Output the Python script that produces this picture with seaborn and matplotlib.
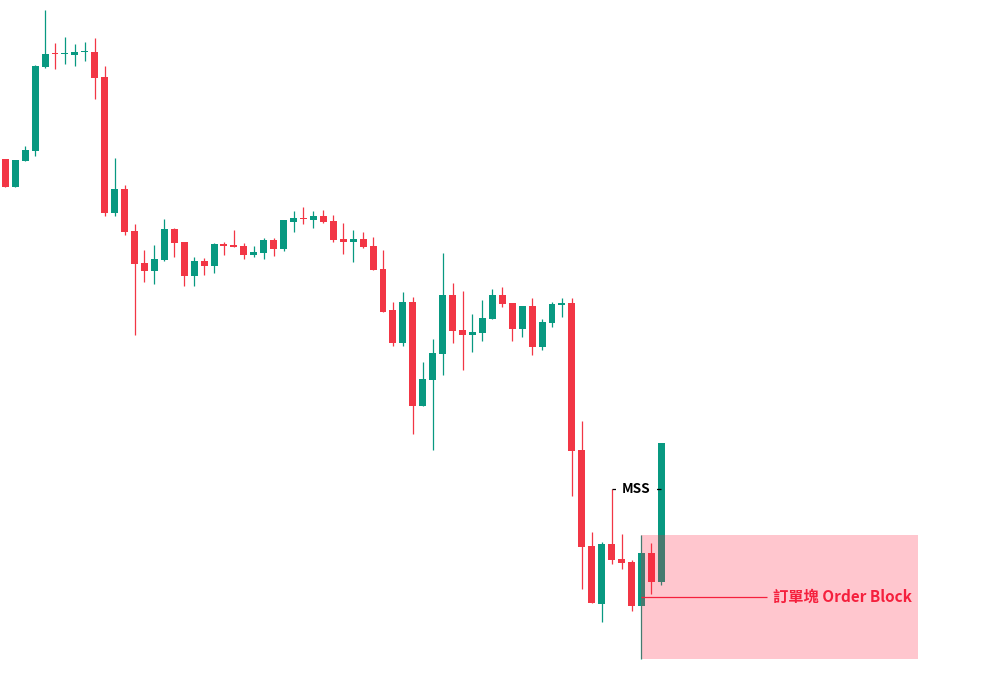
import pandas as pd
import matplotlib
matplotlib.use("Agg")
import matplotlib.pyplot as plt
import seaborn as sns

# OHLC values (price units, axis hidden)
opens = [541, 513, 539, 549, 633, 647, 646, 645, 648, 648,
         623, 487, 511, 469, 437, 429, 440, 471, 458, 424,
         439, 434, 456, 455, 454, 445, 447, 460, 451, 478,
         482, 480, 484, 479, 461, 458, 461, 454, 431, 390,
         357, 398, 294, 320, 346, 405, 370, 365, 367, 381,
         405, 397, 371, 394, 353, 377, 395, 397, 250, 154,
         96, 156, 141, 138, 94, 147, 118]
highs = [541, 540, 554, 635, 690, 657, 663, 656, 658, 662,
         634, 542, 515, 476, 450, 455, 481, 472, 458, 443,
         442, 457, 458, 470, 457, 454, 462, 462, 480, 489,
         493, 489, 490, 485, 477, 470, 468, 463, 450, 398,
         408, 403, 338, 361, 447, 417, 409, 386, 400, 411,
         413, 397, 394, 402, 381, 398, 402, 402, 279, 168,
         158, 211, 166, 140, 165, 157, 257]
lows = [513, 513, 539, 544, 632, 631, 636, 634, 639, 601,
        484, 484, 465, 365, 418, 416, 439, 443, 414, 414,
        425, 427, 445, 453, 441, 443, 441, 444, 449, 468,
        476, 472, 477, 458, 446, 438, 452, 430, 388, 354,
        354, 266, 294, 250, 325, 357, 330, 348, 359, 381,
        393, 359, 363, 345, 350, 373, 383, 204, 111, 97,
        78, 136, 131, 89, 41, 106, 115]
closes = [513, 540, 550, 634, 646, 646, 647, 648, 648.5, 622,
          487, 511, 468, 436, 429, 441, 471, 457, 424, 439,
          434, 456, 454, 453, 445, 448, 460, 451, 480, 482,
          481, 484, 478, 460, 458, 461, 453, 430, 388, 357,
          398, 294, 321, 347, 405, 369, 365, 368, 382, 405,
          396, 371, 394, 353, 378, 396, 397, 249, 153, 97,
          156, 140, 137, 94, 147, 118, 257]

mss_level = 211
mss_start, mss_end = 61, 66
ob_start, ob_end = 64, 91.8
ob_top, ob_bottom = 165, 41
ob_label = "訂單塊 Order Block"
mss_label = "MSS"

df = pd.DataFrame({"open": opens, "high": highs, "low": lows, "close": closes})
df["idx"] = range(len(df))
df["up"] = df["close"] >= df["open"]

green = "#089981"
red = "#F23645"
df["color"] = df["up"].map({True: green, False: red})
df["body_low"] = df[["open", "close"]].min(axis=1)
df["body_h"] = (df["close"] - df["open"]).abs().clip(lower=1.2)

sns.set_theme(style="white")
plt.rcParams["font.family"] = ["Noto Sans CJK TC", "DejaVu Sans"]

fig = plt.figure(figsize=(9.95, 7), dpi=100)
ax = fig.add_axes([0, 0, 1, 1])

# wicks and bodies
ax.vlines(df["idx"], df["low"], df["high"], colors=df["color"], linewidth=0.9, zorder=2)
ax.bar(df["idx"], df["body_h"], bottom=df["body_low"], width=0.7,
       color=df["color"], linewidth=0, zorder=2)

# order block zone
ax.fill_between([ob_start, ob_end], ob_bottom, ob_top, color="#FF1E3C",
                alpha=0.25, linewidth=0, zorder=3)
ob_mid = (ob_top + ob_bottom) / 2
ax.hlines(ob_mid, ob_start, 76.6, colors="#F5203D", linewidth=0.9, zorder=4)
ax.text(77.2, ob_mid, ob_label, color="#F5203D", fontsize=11, fontweight="bold",
        ha="left", va="center", zorder=5)

# market structure shift
ax.hlines(mss_level, mss_start, mss_end, colors="black", linewidth=0.9, zorder=4)
ax.text((mss_start + mss_end) / 2, mss_level, mss_label, color="black", fontsize=9.8,
        fontweight="bold", ha="center", va="center", zorder=5,
        bbox=dict(boxstyle="square,pad=0.45", fc="white", ec="none"))

ax.set_xlim(-0.533, 99.57)
ax.set_ylim(0, 700)
ax.axis("off")

fig.savefig("out.png", dpi=100)
